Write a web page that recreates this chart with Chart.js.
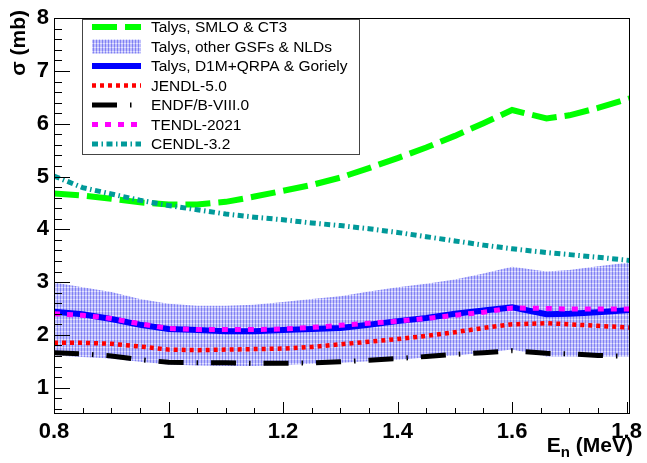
<!DOCTYPE html>
<html>
<head>
<meta charset="utf-8">
<script src="https://cdn.jsdelivr.net/npm/chart.js@4.4.1/dist/chart.umd.min.js"></script>
<style>
  body { margin: 0; background: #fff; }
  canvas { display: block; }
</style>
</head>
<body>
<canvas id="xsChart" width="647" height="463"></canvas>
<script>
// neutron energy grid (MeV)
var energies = [0.80, 0.85, 0.90, 0.95, 1.00, 1.05, 1.10, 1.15, 1.20, 1.25, 1.30,
                1.35, 1.40, 1.45, 1.50, 1.55, 1.60, 1.66, 1.70, 1.75, 1.805];

// cross sections (mb)
var smloCt3   = [4.68, 4.64, 4.58, 4.51, 4.47, 4.47, 4.52, 4.62, 4.73, 4.84, 4.98,
                 5.16, 5.35, 5.55, 5.77, 6.01, 6.26, 6.10, 6.16, 6.30, 6.48];
var bandHigh  = [2.99, 2.90, 2.81, 2.68, 2.59, 2.55, 2.55, 2.57, 2.62, 2.68, 2.73,
                 2.82, 2.90, 2.97, 3.05, 3.16, 3.29, 3.20, 3.23, 3.30, 3.37];
var bandLow   = [1.61, 1.58, 1.55, 1.49, 1.44, 1.42, 1.41, 1.41, 1.43, 1.45, 1.47,
                 1.50, 1.53, 1.57, 1.61, 1.66, 1.72, 1.59, 1.59, 1.59, 1.59];
var d1mQrpa   = [2.44, 2.39, 2.30, 2.19, 2.11, 2.09, 2.07, 2.07, 2.09, 2.11, 2.13,
                 2.19, 2.26, 2.32, 2.40, 2.46, 2.52, 2.39, 2.40, 2.43, 2.47];
var jendl50   = [1.85, 1.85, 1.83, 1.78, 1.72, 1.71, 1.72, 1.73, 1.74, 1.77, 1.82,
                 1.87, 1.92, 1.98, 2.05, 2.13, 2.20, 2.22, 2.20, 2.17, 2.14];
var endfb80   = [1.66, 1.64, 1.60, 1.53, 1.48, 1.47, 1.47, 1.46, 1.46, 1.47, 1.49,
                 1.52, 1.55, 1.59, 1.63, 1.66, 1.70, 1.65, 1.64, 1.61, 1.59];
var tendl2021 = [2.40, 2.37, 2.31, 2.21, 2.12, 2.10, 2.10, 2.10, 2.11, 2.14, 2.18,
                 2.22, 2.26, 2.31, 2.37, 2.43, 2.51, 2.50, 2.49, 2.49, 2.49];
var cendl32   = [5.01, 4.79, 4.67, 4.55, 4.45, 4.37, 4.29, 4.23, 4.18, 4.12, 4.07,
                 4.01, 3.94, 3.86, 3.78, 3.70, 3.63, 3.56, 3.52, 3.47, 3.41];

var xTickValues = [0.8, 1.0, 1.2, 1.4, 1.6, 1.8];
var yTickValues = [1, 2, 3, 4, 5, 6, 7, 8];

var legendLabels = ['Talys, SMLO & CT3', 'Talys, other GSFs & NLDs', 'Talys, D1M+QRPA & Goriely',
                    'JENDL-5.0', 'ENDF/B-VIII.0', 'TENDL-2021', 'CENDL-3.2'];

function points(ys) {
    return energies.map(function (e, i) { return {x: e, y: ys[i]}; });
}

// hatched light-blue fill for the band
function makeBandPattern() {
    var pc = document.createElement('canvas');
    pc.width = 3; pc.height = 4;
    var p = pc.getContext('2d');
    p.fillStyle = '#bfbffb'; p.fillRect(0, 0, 3, 4);
    p.fillStyle = '#e4e4ff'; p.fillRect(1, 3, 2, 1);
    p.fillStyle = '#8080f4'; p.fillRect(0, 0, 1, 3);
    p.fillStyle = '#a4a4f6'; p.fillRect(0, 3, 1, 1);
    return p.createPattern(pc, 'repeat');
}
var bandPattern = makeBandPattern();

var green = '#00ff00', blue = '#0000ff', red = '#ff0000', black = '#000000',
    magenta = '#ff00ff', teal = '#009999';

var lineSet = function (label, ys, color, width, dash) {
    return {
        label: label, data: points(ys), borderColor: color, borderWidth: width,
        borderDash: dash, borderCapStyle: 'butt', pointRadius: 0, fill: false, tension: 0
    };
};

var datasets = [
    lineSet(legendLabels[6], cendl32, teal, 5, [6, 3.5, 1.5, 3.5]),
    lineSet(legendLabels[5], tendl2021, magenta, 5, [6, 7]),
    lineSet(legendLabels[4], endfb80, black, 5, [25, 13, 1.5, 13]),
    lineSet(legendLabels[3], jendl50, red, 4.5, [4, 4]),
    lineSet(legendLabels[2], d1mQrpa, blue, 6, []),
    lineSet(legendLabels[0], smloCt3, green, 6, [25, 8]),
    {label: 'band high', data: points(bandHigh), borderWidth: 0, pointRadius: 0,
     backgroundColor: bandPattern, fill: '+1'},
    {label: 'band low', data: points(bandLow), borderWidth: 0, pointRadius: 0, fill: false}
];

// legend entries: style of the sample drawn in the box
var legendSamples = [
    {color: green, width: 6, dash: [25, 8]},
    {band: true},
    {color: blue, width: 6, dash: []},
    {color: red, width: 4.5, dash: [4, 4]},
    {color: black, width: 5, dash: [25, 13, 1.5, 13]},
    {color: magenta, width: 5, dash: [6, 7]},
    {color: teal, width: 5, dash: [6, 3.5, 1.5, 3.5]}
];

var rootStyle = {
    id: 'rootStyle',
    afterDraw: function (chart) {
        var ctx = chart.ctx, a = chart.chartArea;
        var xs = chart.scales.x, ys = chart.scales.y;
        ctx.save();
        ctx.setLineDash([]);
        ctx.strokeStyle = '#000';
        ctx.lineWidth = 1;

        // inward tick marks
        ctx.beginPath();
        for (var v = 0.8; v <= 1.8001; v += 0.05) {
            var px = Math.round(xs.getPixelForValue(v)) + 0.5;
            var major = Math.abs(v * 5 - Math.round(v * 5)) < 1e-6;
            ctx.moveTo(px, a.bottom);
            ctx.lineTo(px, a.bottom - (major ? 12 : 6));
        }
        for (var w = 0.6; w <= 8.0001; w += 0.2) {
            var py = Math.round(ys.getPixelForValue(w)) + 0.5;
            var maj = Math.abs(w - Math.round(w)) < 1e-6;
            ctx.moveTo(a.left, py);
            ctx.lineTo(a.left + (maj ? 16 : 8), py);
        }
        ctx.stroke();

        // frame
        ctx.strokeRect(Math.round(a.left) + 0.5, Math.round(a.top) + 0.5,
                       Math.round(a.right - a.left) - 1, Math.round(a.bottom - a.top) - 1);

        // x title with subscript
        ctx.fillStyle = '#000';
        ctx.textBaseline = 'alphabetic';
        ctx.textAlign = 'left';
        var big = 'bold 21px "Liberation Sans", Arial, sans-serif';
        var small = 'bold 15px "Liberation Sans", Arial, sans-serif';
        ctx.font = big; var wE = ctx.measureText('E').width, wR = ctx.measureText(' (MeV)').width;
        ctx.font = small; var wN = ctx.measureText('n').width;
        var x0 = 633 - (wE + wN + wR);
        ctx.font = big; ctx.fillText('E', x0, 452);
        ctx.font = small; ctx.fillText('n', x0 + wE, 457);
        ctx.font = big; ctx.fillText(' (MeV)', x0 + wE + wN, 452);

        // y title
        ctx.save();
        ctx.translate(25, 10);
        ctx.rotate(-Math.PI / 2);
        ctx.textAlign = 'right';
        ctx.font = big;
        ctx.fillText('\u03c3 (mb)', 0, 0);
        ctx.restore();

        // legend box
        var bx = 82, by = 19, bw = 277, bh = 135;
        ctx.fillStyle = '#fff';
        ctx.fillRect(bx, by, bw, bh);
        ctx.strokeStyle = '#444';
        ctx.lineWidth = 1;
        ctx.strokeRect(bx + 0.5, by + 0.5, bw, bh);
        ctx.font = '15.5px "Liberation Sans", Arial, sans-serif';
        ctx.textBaseline = 'middle';
        for (var i = 0; i < legendLabels.length; i++) {
            var cy = 27 + 19.5 * i, s = legendSamples[i];
            if (s.band) {
                ctx.fillStyle = bandPattern;
                ctx.fillRect(92, cy - 7, 49, 14);
            } else {
                ctx.beginPath();
                ctx.strokeStyle = s.color;
                ctx.lineWidth = s.width;
                ctx.lineCap = 'butt';
                ctx.setLineDash(s.dash);
                ctx.moveTo(92, cy);
                ctx.lineTo(141, cy);
                ctx.stroke();
                ctx.setLineDash([]);
            }
            ctx.fillStyle = '#000';
            ctx.fillText(legendLabels[i], 151, cy + 1);
        }
        ctx.restore();
    }
};

var tickFont = {family: '"Liberation Sans", Arial, sans-serif', size: 22, weight: 'bold'};

new Chart(document.getElementById('xsChart').getContext('2d'), {
    type: 'line',
    data: {datasets: datasets},
    options: {
        responsive: false,
        animation: false,
        devicePixelRatio: 1,
        layout: {padding: {top: 17, right: 12, left: 0, bottom: 0}},
        plugins: {legend: {display: false}, tooltip: {enabled: false}},
        scales: {
            x: {
                type: 'linear', min: 0.8, max: 1.805,
                grid: {display: false, drawTicks: false},
                border: {display: false},
                afterBuildTicks: function (s) { s.ticks = xTickValues.map(function (v) { return {value: v}; }); },
                afterFit: function (s) { s.height = 49; },
                ticks: {
                    font: tickFont, color: '#000', padding: 5, maxRotation: 0, autoSkip: false,
                    callback: function (v) { return String(Number(v.toFixed(2))); }
                }
            },
            y: {
                type: 'linear', min: 0.5, max: 8,
                grid: {display: false, drawTicks: false},
                border: {display: false},
                afterBuildTicks: function (s) { s.ticks = yTickValues.map(function (v) { return {value: v}; }); },
                afterFit: function (s) { s.width = 54; },
                ticks: {
                    font: tickFont, color: '#000', padding: 5,
                    callback: function (v) { return String(v); }
                }
            }
        }
    },
    plugins: [rootStyle]
});
</script>
</body>
</html>
